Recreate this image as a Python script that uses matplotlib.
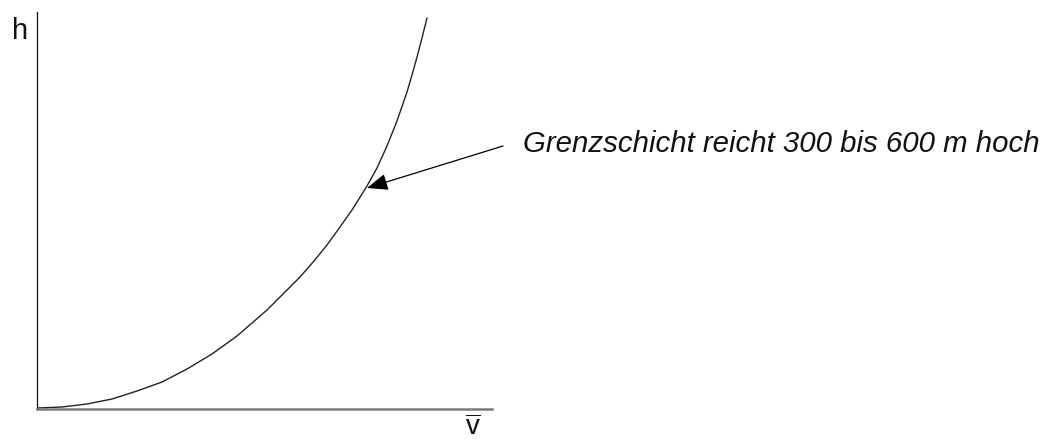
import matplotlib
matplotlib.use("Agg")
import matplotlib.pyplot as plt

plt.rcParams['font.family'] = ['Liberation Sans', 'DejaVu Sans']
plt.rcParams['mathtext.fontset'] = 'custom'
plt.rcParams['mathtext.rm'] = 'Liberation Sans'

# Curve (v̄ horizontal, h vertical, arbitrary units)
v_values = [0, 25, 50, 75, 100, 125, 150, 175, 200, 215, 230, 245, 263, 277, 290,
            303, 315, 330, 340, 350, 360, 370, 375, 380, 385, 390]
h_values = [1, 2, 5, 10, 18, 27, 40, 55, 73, 86, 99, 114, 132, 148, 164,
            182, 199, 223, 241, 263, 288, 317, 334, 352, 371, 391]

annotation_text = "Grenzschicht reicht 300 bis 600 m hoch"
arrow_tip = (330, 221)
arrow_start = (466, 263)

W, H = 1041, 444
fig = plt.figure(figsize=(W / 100, H / 100), dpi=100)
ax = fig.add_axes([37 / W, (H - 409) / H, (492 - 37) / W, (409 - 12) / H])
ax.set_xlim(0, 455)
ax.set_ylim(0, 397)

ax.plot(v_values, h_values, color='#222222', lw=1.0, solid_capstyle='round',
        solid_joinstyle='round')

for s in ['top', 'right']:
    ax.spines[s].set_visible(False)
ax.spines['left'].set_color('#111111')
ax.spines['left'].set_linewidth(0.9)
ax.spines['bottom'].set_color('#7a7a7a')
ax.spines['bottom'].set_linewidth(1.8)
ax.set_xticks([])
ax.set_yticks([])

ax.annotate('', xy=arrow_tip, xytext=arrow_start, annotation_clip=False,
            arrowprops=dict(arrowstyle='-|>,head_length=0.8,head_width=0.32',
                            color='black', lw=0.9, shrinkA=0, shrinkB=0,
                            mutation_scale=16))

fig.text(523 / W, (H - 152) / H, annotation_text, fontsize=21.2, style='italic',
         ha='left', va='baseline', color='#111111')

fig.text(20 / W, (H - 31) / H, 'h', fontsize=21, ha='center', va='center', color='#111111')
fig.text(473 / W, (H - 441) / H, r'$\overline{\mathrm{v}}$', fontsize=20,
         ha='center', va='bottom', color='#111111')

fig.savefig('out.png', dpi=100, facecolor='white')
